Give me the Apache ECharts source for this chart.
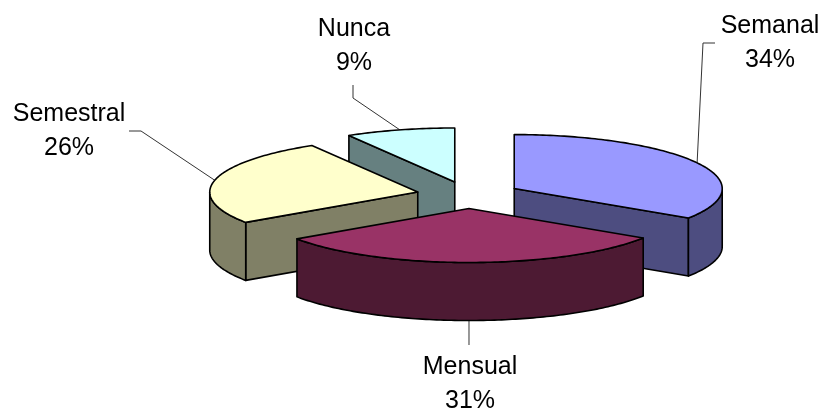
<!DOCTYPE html>
<html>
<head>
<meta charset="utf-8">
<style>html,body{margin:0;padding:0;background:#fff}#chart{width:825px;height:416px}</style>
<script src="https://cdn.jsdelivr.net/npm/echarts@6/dist/echarts.min.js"></script>
</head>
<body>
<div id="chart"></div>
<script>
const categories = ['Semanal', 'Mensual', 'Semestral', 'Nunca'];
const values = [34.2, 31.3, 26, 8.5];
const topColors = ['#9999FF', '#993366', '#FFFFCC', '#CCFFFF'];
const sideColors = ['#4D4D80', '#4D1A33', '#808066', '#668080'];

// Projection of the tilted pie
const CX = 468.5, CY = 195, RX = 208, RY = 54, DEPTH = 58, EXPLODE = 52;
// Label anchors and leader elbows (layout only)
const labelCenters = [[770, 43], [470, 384], [69, 131], [354, 46]];
const leaderEnds = [[715, 43], [null, 345], [129, 131], [353, 85]];
const leaderElbows = [[703, 43], null, [141, 131], [353, 98]];

const total = values.reduce((a, b) => a + b, 0);
const rad = d => d * Math.PI / 180;
const slices = [];
let acc = 0;
values.forEach(function (v) {
  const s = acc / total * 360;
  acc += v;
  const e = acc / total * 360;
  const m = (s + e) / 2;
  const ax = CX + EXPLODE * Math.sin(rad(m));
  const ay = CY - EXPLODE * (RY / RX) * Math.cos(rad(m));
  slices.push({ s, e, m, ax, ay });
});
const rankOrder = slices.map((sl, i) => i).sort((a, b) => slices[a].ay - slices[b].ay);

function rimPoint(sl, deg, drop) {
  return [sl.ax + RX * Math.sin(rad(deg)), sl.ay - RY * Math.cos(rad(deg)) + (drop || 0)];
}
function arcPoints(sl, from, to, drop) {
  const pts = [];
  const n = Math.max(2, Math.ceil(to - from));
  for (let i = 0; i <= n; i++) pts.push(rimPoint(sl, from + (to - from) * i / n, drop));
  return pts;
}
const edge = { stroke: '#000', lineWidth: 1.6, lineJoin: 'round' };

function renderSlice(params, api) {
  const i = params.dataIndex;
  const value = api.value(0);
  const sl = slices[i];
  const base = (rankOrder.indexOf(i) + 1) * 10;
  const side = Object.assign({ fill: sideColors[i] }, edge);
  const children = [];
  const face = function (deg, z) {
    const p = rimPoint(sl, deg);
    children.push({
      type: 'polygon', z2: base + z,
      shape: { points: [[sl.ax, sl.ay], p, [p[0], p[1] + DEPTH], [sl.ax, sl.ay + DEPTH]] },
      style: side
    });
  };
  if (sl.s > 180 && sl.s < 360) face(sl.s, 1);
  if (sl.e > 0 && sl.e < 180) face(sl.e, 1);
  const wa = Math.max(sl.s, 90), wb = Math.min(sl.e, 270);
  if (wb > wa) {
    children.push({
      type: 'polygon', z2: base + 2,
      shape: { points: arcPoints(sl, wa, wb, 0).concat(arcPoints(sl, wa, wb, DEPTH).reverse()) },
      style: side
    });
  }
  children.push({
    type: 'polygon', z2: base + 3,
    shape: { points: [[sl.ax, sl.ay]].concat(arcPoints(sl, sl.s, sl.e, 0)) },
    style: Object.assign({ fill: topColors[i] }, edge)
  });
  // Leader line: from the rim at the slice's mid-angle (or lowest rim point for front slices) to its label
  const onFront = sl.m > 90 && sl.m < 270;
  const rim = rimPoint(sl, onFront ? 180 : sl.m, onFront ? DEPTH : 0);
  const leader = [rim];
  if (leaderElbows[i]) leader.push(leaderElbows[i]);
  const end = leaderEnds[i];
  leader.push([end[0] === null ? rim[0] : end[0], end[1]]);
  children.push({
    type: 'polyline', z2: 1,
    shape: { points: leader },
    style: { stroke: '#333', lineWidth: 1, fill: null }
  });
  children.push({
    type: 'text', z2: 100,
    x: labelCenters[i][0], y: labelCenters[i][1],
    style: {
      text: categories[i] + '\n' + Math.round(value / total * 100) + '%',
      fill: '#000',
      font: '25px "Liberation Sans", Arial, sans-serif',
      lineHeight: 34,
      align: 'center',
      verticalAlign: 'middle'
    }
  });
  return { type: 'group', children: children };
}

const chart = echarts.init(document.getElementById('chart'), null, { renderer: 'canvas' });
chart.setOption({
  animation: false,
  backgroundColor: '#fff',
  series: [{
    type: 'custom',
    coordinateSystem: 'none',
    renderItem: renderSlice,
    silent: true,
    data: categories.map((c, i) => ({ name: c, value: [values[i]] }))
  }]
});
</script>
</body>
</html>
